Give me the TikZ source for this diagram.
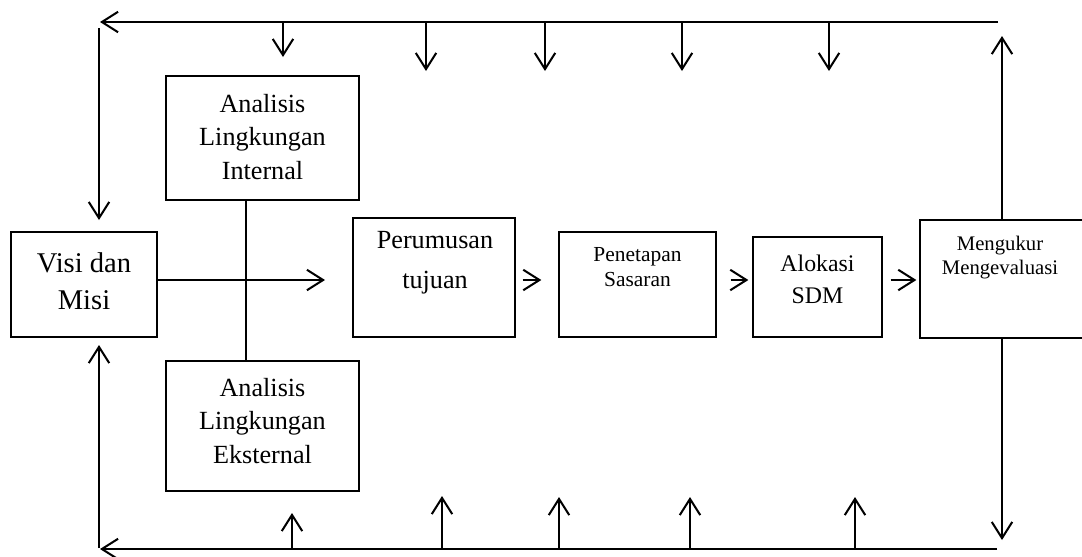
\documentclass[tikz,border=0pt]{standalone}
\usepackage{fontspec}
\setmainfont{Liberation Serif}
\usetikzlibrary{positioning}
\usetikzlibrary{calc}
\usetikzlibrary{arrows.meta}

\begin{document}
\begin{tikzpicture}[x=0.42pt, y=-0.42pt,
  box/.style={draw, line width=0.55pt, inner sep=0pt},
  txt/.style={align=center, inner sep=0pt},
  arr/.style={line width=0.85pt, -{Straight Barb[length=6.8pt,width=8.6pt]}},
  fs/.style 2 args={font=\fontsize{#1}{#2}\selectfont}]
\useasboundingbox (0,0) rectangle (1082,556);

% boxes
\node [box, minimum width=61.32pt, minimum height=44.1pt] (visi) at (84,284.5) {};
\node [box, minimum width=81.06pt, minimum height=52.08pt] (intern) at (262.5,138) {};
\node [box, minimum width=81.06pt, minimum height=54.6pt] (ekstern) at (262.5,426) {};
\node [box, minimum width=68.04pt, minimum height=49.98pt] (rumus) at (434,277.5) {};
\node [box, minimum width=65.94pt, minimum height=44.1pt] (sasaran) at (637.5,284.5) {};
\node [box, minimum width=54.18pt, minimum height=42pt] (alokasi) at (817.5,287) {};
\node [box, minimum width=68.88pt, minimum height=49.56pt] (ukur) at (1002,279) {};

% texts
\node [txt, fs={12pt}{15.5pt}] (visitxt) at ($(visi)+(0,-3)$) {Visi dan\\Misi};
\node [txt, fs={11pt}{14pt}] (interntxt) at ($(intern)+(0,-1)$) {Analisis\\Lingkungan\\Internal};
\node [txt, fs={11pt}{14pt}] (eksterntxt) at ($(ekstern)+(0,-5)$) {Analisis\\Lingkungan\\Eksternal};
\node [txt, fs={11pt}{16.8pt}] (rumustxt) at ($(rumus)+(1,-14.5)$) {Perumusan\\tujuan};
\node [txt, fs={9pt}{10.5pt}] (sasarantxt) at ($(sasaran)+(0,-17)$) {Penetapan\\Sasaran};
\node [txt, fs={10pt}{13.4pt}] (alokasitxt) at ($(alokasi)+(0,-8)$) {Alokasi\\SDM};
\node [txt, fs={8.7pt}{9.8pt}] (ukurtxt) at ($(ukur)+(-2,-21.5)$) {Mengukur\\Mengevaluasi};

\coordinate (cross) at (246,280);
\coordinate (rumusin) at (325,280);
\coordinate (tl) at (100,22);
\coordinate (tr) at (998,22);
\coordinate (bl) at (100,549);
\coordinate (br) at (997,549);
\coordinate (rtop) at (1002,36);
\coordinate (rbot) at (1002,540);

% main flow
\draw [line width=0.55pt] (intern.south -| cross) -- (ekstern.north -| cross);
\draw [arr] (visi.east |- cross) -- (rumusin);
\draw [arr] ($(rumus.east |- cross)+(7,0)$) -- ($(sasaran.west |- cross)+(-17,0)$);
\draw [arr] ($(sasaran.east |- cross)+(14,0)$) -- ($(alokasi.west |- cross)+(-4,0)$);
\draw [arr] ($(alokasi.east |- cross)+(8,0)$) -- ($(ukur.west |- cross)+(-3,0)$);

% feedback loop
\draw [arr] (ukur.north) -- (ukur.north |- rtop);
\draw [arr] (ukur.south) -- (ukur.south |- rbot);
\draw [arr] (tr) -- (tl);
\draw [arr] (br) -- (bl);
\draw [arr] (99,28) -- (99,220);
\draw [arr] (99,548) -- (99,345);

% ticks on top line
\foreach \x/\t in {283/57, 426/71, 545/71, 682/71, 829/71}
  \draw [arr] (\x,22) -- (\x,\t);

% ticks on bottom line
\foreach \x/\t in {292/513, 442/496, 559/497, 690/497, 855/497}
  \draw [arr] (\x,549) -- (\x,\t);

\end{tikzpicture}
\end{document}
